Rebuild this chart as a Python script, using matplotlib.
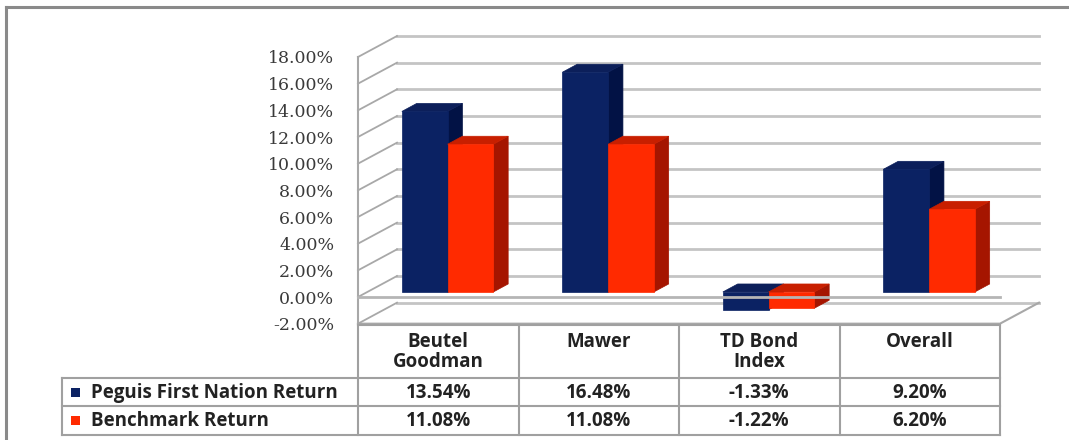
import matplotlib
matplotlib.use("Agg")
import matplotlib.pyplot as plt
from matplotlib.patches import Polygon, Rectangle
from matplotlib.lines import Line2D

# ---------------- data ----------------
categories = ["Beutel\nGoodman", "Mawer", "TD Bond\nIndex", "Overall"]
series_names = ["Peguis First Nation Return", "Benchmark Return"]
peguis = [13.54, 16.48, -1.33, 9.20]
benchmark = [11.08, 11.08, -1.22, 6.20]
y_ticks = [-2, 0, 2, 4, 6, 8, 10, 12, 14, 16, 18]

# ---------------- styling ----------------
W, H = 1069, 440
fig = plt.figure(figsize=(W / 100, H / 100), dpi=100)
fig.patch.set_facecolor("white")

front_col = {"blue": "#0b2263", "red": "#ff2a00"}
side_col = {"blue": "#021245", "red": "#a51500"}
top_col = {"blue": "#0c1f5a", "red": "#c81f00"}
grid_col = "#c4c4c4"
line_col = "#a8a8a8"

# main (front plane) axes in pixel layout
x0_px, x1_px = 358, 1000
ytop_px, ybot_px = 57.0, 57.0 + 20 * 240 / 18
ax = fig.add_axes([x0_px / W, 1 - ybot_px / H, (x1_px - x0_px) / W, (ybot_px - ytop_px) / H])
ax.set_xlim(0, 4)
ax.set_ylim(-2, 18)
ax.patch.set_visible(False)
for s in ax.spines.values():
    s.set_visible(False)
ax.set_xticks([])
ax.set_yticks(y_ticks)
ax.set_yticklabels([f"{v:.2f}%" for v in y_ticks], fontfamily="DejaVu Serif",
                   fontsize=12.5, color="#3a3a3a")
ax.tick_params(axis="y", length=0, pad=17)

PX_X = (x1_px - x0_px) / 4
PX_Y = 240 / 18
DX = 39 / PX_X
DY = 21 / PX_Y


def P(x, v, d):
    return (x + d * DX, v + d * DY)


# back wall gridlines & left wall
for v in y_ticks:
    ax.add_line(Line2D(*zip(P(0, v, 1), P(4, v, 1)), color=grid_col, lw=2.0, zorder=1, clip_on=False))
    ax.add_line(Line2D(*zip(P(0, v, 0), P(0, v, 1)), color=line_col, lw=1.3, zorder=1, clip_on=False))
ax.add_line(Line2D([0, 0], [-2, 18], color=line_col, lw=1.5, zorder=2, clip_on=False))
# floor
fl = [P(0, -2, 0), P(4, -2, 0), P(4, -2, 1)]
ax.add_line(Line2D(*zip(*fl), color=line_col, lw=1.5, zorder=2, clip_on=False))

# bars
BW = 0.285
D0, D1 = 0.24, 0.62


def box(xl, xr, v, key):
    lo, hi = min(0, v), max(0, v)
    side = [P(xr, lo, D0), P(xr, lo, D1), P(xr, hi, D1), P(xr, hi, D0)]
    top = [P(xl, hi, D0), P(xr, hi, D0), P(xr, hi, D1), P(xl, hi, D1)]
    front = [P(xl, lo, D0), P(xr, lo, D0), P(xr, hi, D0), P(xl, hi, D0)]
    for pts, c in ((side, side_col[key]), (top, top_col[key]), (front, front_col[key])):
        ax.add_patch(Polygon(pts, closed=True, facecolor=c, edgecolor=c, lw=0.5,
                             zorder=3, clip_on=False))


for i in range(len(categories)):
    c = i + 0.5
    box(c - BW, c, peguis[i], "blue")
    box(c, c + BW, benchmark[i], "red")

# front 0% edge line over bars
ax.add_line(Line2D(*zip(P(0, 0, 0), P(4, 0, 0)), color="#b5b5b5", lw=2.0, zorder=5, clip_on=False))

# ---------------- overlay: border & data table ----------------
ov = fig.add_axes([0, 0, 1, 1])
ov.set_xlim(0, W)
ov.set_ylim(H, 0)
ov.axis("off")

ov.add_line(Line2D([6, W], [7, 7], color="#8a8a8a", lw=2.2))
ov.add_line(Line2D([6, 6], [7, H], color="#8a8a8a", lw=2.2))

col_edges = [x0_px + k * PX_X for k in range(5)]
t_top, r1, r2, t_bot = 325, 378, 406, 435
tl_left = 62
tcol = "#a0a0a0"
ov.add_line(Line2D([x0_px, x1_px], [t_top, t_top], color=tcol, lw=1.5))
for y in (r1, r2, t_bot):
    ov.add_line(Line2D([tl_left, x1_px], [y, y], color=tcol, lw=1.5))
for xe in col_edges:
    ov.add_line(Line2D([xe, xe], [t_top, t_bot], color=tcol, lw=1.5))
ov.add_line(Line2D([tl_left, tl_left], [r1, t_bot], color=tcol, lw=1.5))

tfont = dict(fontfamily="Open Sans", fontweight="bold", fontsize=13.5, color="#222222")
for i, name in enumerate(categories):
    cx = (col_edges[i] + col_edges[i + 1]) / 2
    ov.text(cx, 332, name, ha="center", va="top", linespacing=1.0, **tfont)
    ov.text(cx, (r1 + r2) / 2 + 1, f"{peguis[i]:.2f}%", ha="center", va="center", **tfont)
    ov.text(cx, (r2 + t_bot) / 2 + 1, f"{benchmark[i]:.2f}%", ha="center", va="center", **tfont)

for (ya, yb), name, key in (((r1, r2), series_names[0], "blue"), ((r2, t_bot), series_names[1], "red")):
    ym = (ya + yb) / 2
    ov.add_patch(Rectangle((71, ym - 4), 9, 9, facecolor=front_col[key], edgecolor="none"))
    ov.text(91, ym + 1, name, ha="left", va="center", **tfont)

fig.savefig("out.png", dpi=100, facecolor="white")
